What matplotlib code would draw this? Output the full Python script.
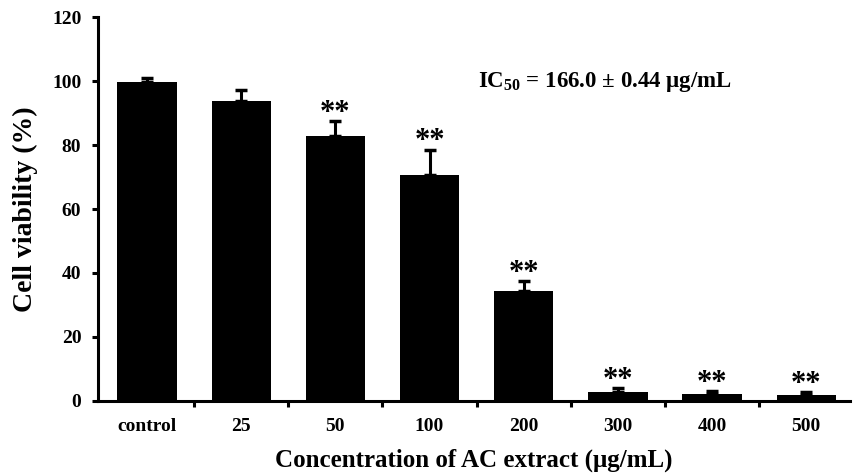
import matplotlib
matplotlib.use("Agg")
import matplotlib.pyplot as plt
import numpy as np

plt.rcParams["font.family"] = ["Liberation Serif", "DejaVu Serif"]
plt.rcParams["font.weight"] = "bold"
plt.rcParams["mathtext.fontset"] = "custom"
plt.rcParams["mathtext.rm"] = "Liberation Serif:bold"
plt.rcParams["mathtext.bf"] = "Liberation Serif:bold"
plt.rcParams["mathtext.it"] = "Liberation Serif:bold"

# cell viability per concentration
labels = ["control", "25", "50", "100", "200", "300", "400", "500"]
viability = [99.7, 93.7, 82.9, 70.6, 34.5, 2.9, 2.1, 1.8]
err_up = [1.2, 3.6, 4.5, 8.0, 3.0, 1.1, 1.1, 1.1]
signif = ["", "", "**", "**", "**", "**", "**", "**"]

fig = plt.figure(figsize=(8.54, 4.75), dpi=100)
ax = fig.add_axes([0.1148, 0.156, 0.88, 0.808])

x = np.arange(len(labels))
ax.bar(x, viability, width=0.63, color="black",
       yerr=[np.zeros(len(x)), err_up],
       error_kw=dict(ecolor="black", elinewidth=2.2, capsize=4, capthick=2.5))

for xi, v, e, s in zip(x, viability, err_up, signif):
    if s:
        ax.annotate(s, (xi, v + e), xytext=(0, -5), textcoords="offset points",
                    ha="center", va="bottom", fontsize=22, fontweight="bold")

ax.text(0.675, 0.83, r"IC$_{50}$ = 166.0 ± 0.44 μg/mL", transform=ax.transAxes,
        ha="center", va="center", fontsize=16.5, fontweight="bold")

ax.set_xlim(-0.52, 7.46)
ax.set_ylim(0, 120)
ax.set_yticks(np.arange(0, 121, 20))
ax.set_xticks(x)
ax.set_xticklabels(labels)
ax.set_xticks(x[:-1] + 0.5, minor=True)
ax.tick_params(axis="x", which="major", length=0, pad=12, labelsize=14)
ax.tick_params(axis="x", which="minor", length=4, width=2.2, direction="out")
ax.tick_params(axis="y", length=4, width=2.2, direction="out", labelsize=14, pad=8)

for side in ("top", "right"):
    ax.spines[side].set_visible(False)
for side in ("left", "bottom"):
    ax.spines[side].set_linewidth(2.2)

ax.set_ylabel("Cell viability (%)", fontsize=20, fontweight="bold", labelpad=10)
ax.set_xlabel("Concentration of AC extract (μg/mL)", fontsize=18, fontweight="bold", labelpad=10)

fig.savefig("out.png", dpi=100)
